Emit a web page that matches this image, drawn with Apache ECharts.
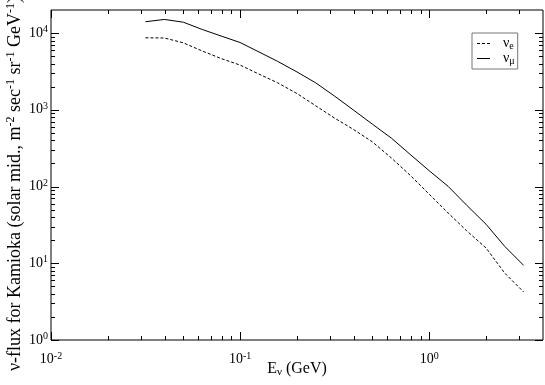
<!DOCTYPE html>
<html><head><meta charset="utf-8">
<script src="https://cdn.jsdelivr.net/npm/echarts@6/dist/echarts.min.js"></script>
<style>html,body{margin:0;padding:0;background:#fff}#c{width:545px;height:385px}</style>
</head><body><div id="c"></div>
<script>
// ---- data ----
const energies = [0.0316,0.0398,0.0501,0.0631,0.0794,0.1,0.126,0.158,0.2,0.251,0.316,0.398,0.501,0.631,0.794,1.0,1.26,1.58,2.0,2.51,3.16];
const fluxNuE  = [8690,8630,7470,5840,4660,3830,2920,2250,1630,1130,780,555,382,236,140,79.6,45.2,26.5,15.8,7.45,4.23];
const fluxNuMu = [14060,15060,13870,11140,9160,7540,5670,4280,3115,2250,1510,993,650,428,262,161,100.6,57,32.2,16.6,9.4];
const seriesNames = ['\u03bd_e', '\u03bd_\u03bc'];
const xTickExponents = [-2, -1, 0];
const yTickExponents = [0, 1, 2, 3, 4];
const xRange = [0.01, 4];
const yRange = [1, 20000];

// ---- chart ----
const FONT = 'Liberation Serif';
const chart = echarts.init(document.getElementById('c'), null, {renderer: 'canvas'});
const rich = {
  b: {fontFamily: FONT, fontSize: 14, color: '#000'},
  s: {fontFamily: FONT, fontSize: 10, color: '#000', padding: [0, 0, 7, 0]}
};
function powLabel(v, exps) {
  const l = Math.log10(v), e = Math.round(l);
  if (Math.abs(l - e) > 1e-6 || exps.indexOf(e) < 0) return '';
  return '{b|10}{s|' + e + '}';
}
function legendLabel(name) {
  const p = name.split('_');
  return '{b|' + p[0] + '}{u|' + p[1] + '}';
}

chart.setOption({
  animation: false,
  grid: {left: 51, right: 2, top: 10, bottom: 45, outerBoundsMode: 'none', containLabel: false,
         show: true, borderColor: '#000', borderWidth: 1},
  legend: {
    orient: 'vertical', left: 472, top: 33,
    borderColor: '#777', borderWidth: 1, borderRadius: 0,
    padding: [3, 3, 3, 5], itemGap: 0, itemWidth: 13, itemHeight: 1,
    data: [
      {name: seriesNames[0], icon: 'path://M0,0h3v1h-3zM5,0h3v1h-3zM10,0h3v1h-3z'},
      {name: seriesNames[1], icon: 'rect'}
    ],
    formatter: legendLabel,
    textStyle: {rich: {
      b: {fontFamily: FONT, fontSize: 14, lineHeight: 14, color: '#000', padding: [0, 0, 0, 8]},
      u: {fontFamily: FONT, fontSize: 10, lineHeight: 10, color: '#000', padding: [5, 0, 0, 0]}
    }}
  },
  xAxis: {
    type: 'log', logBase: 10, min: xRange[0], max: xRange[1],
    axisLine: {show: false}, axisTick: {show: false}, splitLine: {show: false},
    axisLabel: {margin: 11, showMaxLabel: false, formatter: v => powLabel(v, xTickExponents), rich: rich},
    name: '{b|E}{u|\u03bd}{b| (GeV)}', nameLocation: 'middle', nameGap: 19, nameMoveOverlap: false,
    nameTextStyle: {rich: {
      b: {fontFamily: FONT, fontSize: 16, color: '#000'},
      u: {fontFamily: FONT, fontSize: 11, color: '#000', padding: [8, 0, 0, 0]}
    }}
  },
  yAxis: {
    type: 'log', logBase: 10, min: yRange[0], max: yRange[1],
    axisLine: {show: false}, axisTick: {show: false}, splitLine: {show: false},
    axisLabel: {margin: 3, showMaxLabel: false, formatter: v => powLabel(v, yTickExponents), rich: rich},
    name: '{b|\u03bd-flux for Kamioka (solar mid., m}{s|-2}{b| sec}{s|-1}{b| sr}{s|-1}{b| GeV}{s|-1}{b|)}',
    nameLocation: 'middle', nameGap: 25, nameRotate: 90, nameMoveOverlap: false,
    nameTextStyle: {padding: [0, 18, 0, 0], rich: {
      b: {fontFamily: FONT, fontSize: 18, color: '#000'},
      s: {fontFamily: FONT, fontSize: 12, color: '#000', padding: [0, 0, 9, 0]}
    }}
  },
  series: [
    {name: seriesNames[0], type: 'line', symbol: 'none', data: energies.map((e, i) => [e, fluxNuE[i]]),
     lineStyle: {color: '#000', width: 1, type: [3, 2]}, itemStyle: {color: '#000'}},
    {name: seriesNames[1], type: 'line', symbol: 'none', data: energies.map((e, i) => [e, fluxNuMu[i]]),
     lineStyle: {color: '#000', width: 1}, itemStyle: {color: '#000'}}
  ]
});

// ---- inward ticks on all four sides (positions from the axis scales) ----
function tickValues(range) {
  const major = [], minor = [];
  const lo = Math.floor(Math.log10(range[0])), hi = Math.ceil(Math.log10(range[1]));
  for (let e = lo; e <= hi; e++) {
    for (let k = 1; k <= 9; k++) {
      const v = k * Math.pow(10, e);
      if (v < range[0] * 0.9999 || v > range[1] * 0.9999) continue;
      (k === 1 ? major : minor).push(v);
    }
  }
  return {major, minor};
}
const xt = tickValues(xRange), yt = tickValues(yRange);
const MAJ = 8, MIN = 4;
const els = [];
function seg(x1, y1, x2, y2) {
  els.push({type: 'line', silent: true, shape: {x1, y1, x2, y2}, style: {stroke: '#000', lineWidth: 1}});
}
function px(v) { return chart.convertToPixel({gridIndex: 0}, v); }
[[xt.major, MAJ], [xt.minor, MIN]].forEach(([vals, len]) => vals.forEach(v => {
  const b = px([v, yRange[0]]), t = px([v, yRange[1]]);
  const x = Math.round(b[0]) + 0.5;
  seg(x, b[1], x, b[1] - len);
  seg(x, t[1], x, t[1] + len);
}));
[[yt.major, MAJ], [yt.minor, MIN]].forEach(([vals, len]) => vals.forEach(v => {
  const l = px([xRange[0], v]), r = px([xRange[1], v]);
  const y = Math.round(l[1]) + 0.5;
  seg(l[0], y, l[0] + len, y);
  seg(r[0], y, r[0] - len, y);
}));
chart.setOption({graphic: els});
</script>
</body></html>
